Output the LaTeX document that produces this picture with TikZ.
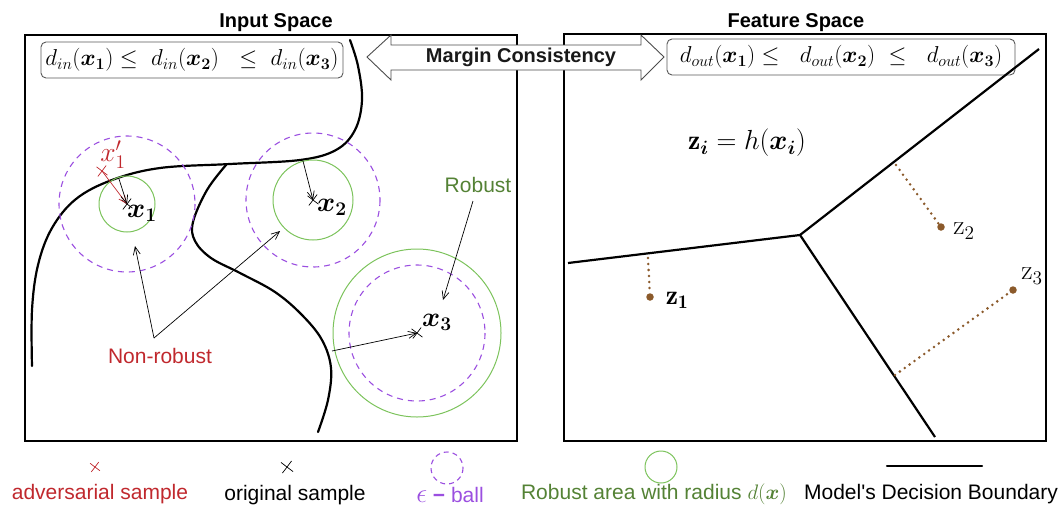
\documentclass[tikz,border=0pt]{standalone}
\usepackage{fix-cm}
\usepackage{amsmath,bm}
\usepackage{fontspec}
\newfontfamily\arial{Liberation Sans}
\usetikzlibrary{arrows.meta,shapes.misc}
\definecolor{advred}{HTML}{C0282D}
\definecolor{robgreen}{HTML}{548235}
\definecolor{circgreen}{HTML}{7CC35C}
\definecolor{epspurple}{HTML}{9B4FE0}
\definecolor{dotbrown}{HTML}{8B5A2B}
\tikzset{
  frame/.style={draw=black, line width=1.2pt},
  bnd/.style={line width=2.2pt, line cap=round},
  eqbox/.style={draw=black!65, rounded corners=5pt, fill=white, line width=0.9pt, inner sep=3pt},
  ptr/.style={-{Straight Barb[length=8pt,width=7pt]}, line width=0.7pt},
  greenc/.style={draw=circgreen, line width=1pt},
  purpc/.style={draw=epspurple, dash pattern=on 6pt off 5pt, line width=1.1pt},
  dotline/.style={draw=dotbrown, line width=2.8pt, line cap=round, dash pattern=on 0pt off 6pt},
  zdot/.style={circle, fill=dotbrown, inner sep=0pt, minimum size=7.5pt},
  smark/.style={draw, cross out, minimum size=9pt, inner sep=0pt, line width=0.7pt, rotate=8},
  title/.style={font=\arial\bfseries\fontsize{20}{24}\selectfont},
  leg/.style={font=\arial\fontsize{21}{25}\selectfont},
  lab/.style={font=\fontsize{24}{28}\selectfont, inner sep=0pt, scale=1.15},
}
\begin{document}
\begin{tikzpicture}[x=1pt,y=-1pt]
\useasboundingbox (0,0) rectangle (1064,507);
% frames
\draw[frame] (25,35) rectangle (517,441);
\draw[frame] (564,34) rectangle (1046,441);
% titles
\node[title] (tin) at (276,23) {Input Space};
\node[title] (tout) at (796,23) {Feature Space};
% double arrow
\draw[draw=black!70, fill=white, line width=0.9pt]
  (367,57) -- (391,35) -- (391,45) -- (641,45) -- (641,35) -- (664,57)
  -- (641,80) -- (641,70) -- (391,70) -- (391,80) -- cycle;
\node[title, text=black!90] (mc) at (521,57) {Margin Consistency};
% equation boxes
\node[eqbox, font=\fontsize{23}{27}\selectfont, minimum width=302pt, minimum height=36pt] (eqin) at (192,60)
  {$d_{in}(\bm{x}_{\bm 1}) \le\ d_{in}(\bm{x}_{\bm 2})\ \ \le\ d_{in}(\bm{x}_{\bm 3})$};
\node[eqbox, font=\fontsize{23}{27}\selectfont, minimum width=348pt, minimum height=36pt] (eqout) at (841,57)
  {$d_{out}(\bm{x}_{\bm 1}) \le\ \ d_{out}(\bm{x}_{\bm 2})\ \le\ \ d_{out}(\bm{x}_{\bm 3})$};
% decision boundaries, input space
\draw[bnd] plot[smooth, tension=0.6] coordinates {(350,40) (358,66) (362,100) (355,130) (336,150) (300,160) (230,164) (160,168) (112,180) (76,199) (52,228) (38,265) (32,310) (32,366)};
\draw[bnd] plot[smooth, tension=0.6] coordinates {(226,165) (207,190) (193,222) (195,241) (211,258) (240,273) (275,292) (302,315) (322,340) (331,368) (328,400) (318,432)};
% circles
\coordinate (c1) at (127,204);
\coordinate (c2) at (313,200);
\coordinate (c3) at (417,333);
\draw[purpc] (c1) circle[radius=68];
\draw[greenc] (c1) circle[radius=28];
\draw[purpc] (c2) circle[radius=67];
\draw[greenc] (c2) circle[radius=40];
\draw[greenc] (c3) circle[radius=84];
\draw[purpc] (c3) circle[radius=68];
% samples
\node[smark] (x1) at (c1) {};
\node[smark] (x2) at (c2) {};
\node[smark] (x3) at (c3) {};
\node[smark, draw=advred] (xa) at (102,171) {};
\node[lab] (lx1) at (142,213) {$\bm{x}_{\bm 1}$};
\node[lab] (lx2) at (332,207) {$\bm{x}_{\bm 2}$};
\node[lab] (lx3) at (437,322) {$\bm{x}_{\bm 3}$};
\node[lab, text=advred] (lxa) at (113,155) {$x_1'$};
% arrows to samples
\coordinate (b1) at (119,179);
\coordinate (b2) at (303,161);
\coordinate (b3) at (332,351);
\draw[ptr, draw=advred] (xa.center) -- (x1.center);
\draw[ptr] (b1) -- (x1.center);
\draw[ptr] (b2) -- (x2.center);
\draw[ptr] (b3) -- (x3.center);
% robust / non-robust
\node[leg, text=robgreen] (rob) at (478,185) {Robust};
\coordinate (rs) at (473,201);
\draw[ptr] (rs) -- (443,300) coordinate (re);
\node[leg, text=advred] (nrob) at (160,356) {Non-robust};
\coordinate (ns) at (154,338);
\coordinate (n1) at (135,246);
\coordinate (n2) at (280,231);
\draw[ptr] (ns) -- (n1);
\draw[ptr] (ns) -- (n2);
% feature space
\coordinate (J) at (800,235);
\coordinate (A) at (568,263);
\coordinate (B) at (1039,49);
\coordinate (C) at (935,437);
\draw[bnd, line cap=butt] (A) -- (J) -- (B);
\draw[bnd, line cap=butt] (J) -- (C);
\node[lab] (zeq) at (747,143) {$\mathbf{z}_{\bm i} = h(\bm{x}_{\bm i})$};
\node[zdot] (z1) at (650,297) {};
\node[zdot] (z2) at (941,227) {};
\node[zdot] (z3) at (1013,290) {};
\coordinate (p1) at (648,258);
\coordinate (p2) at (896,165);
\coordinate (p3) at (895,375);
\draw[dotline] (p1) -- (z1);
\draw[dotline] (p2) -- (z2);
\draw[dotline] (p3) -- (z3);
\node[lab] (lz1) at (677,300) {$\mathbf{z}_{\mathbf 1}$};
\node[lab] (lz2) at (964,231) {$\mathrm{z}_2$};
\node[lab] (lz3) at (1032,276) {$\mathrm{z}_3$};
% legend
\node[smark, draw=advred, minimum size=8pt] (la) at (95,467) {};
\node[leg, text=advred] (lta) at (100,494) {adversarial sample};
\node[smark, minimum size=10pt] (lo) at (287,467) {};
\node[leg] (lto) at (295,495) {original sample};
\draw[purpc, dash pattern=on 5pt off 4pt] (447,468) circle[radius=16];
\node[leg, text=epspurple] (lte) at (450,495) {\scalebox{1.3}{$\epsilon$} \textbf{\textminus} ball};
\draw[greenc] (661,467) circle[radius=16];
\node[leg, text=robgreen] (ltr) at (654,494) {Robust area with radius $d(\bm{x})$};
\coordinate (lb1) at (887,466);
\coordinate (lb2) at (982,466);
\draw[bnd] (lb1) -- (lb2);
\node[leg] (ltb) at (931,494) {Model's Decision Boundary};
\end{tikzpicture}
\end{document}
